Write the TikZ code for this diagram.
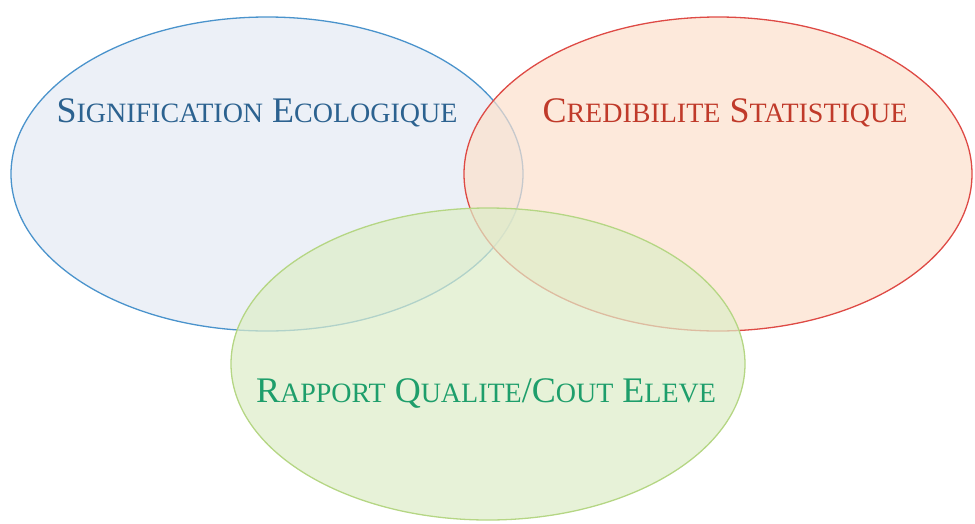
\documentclass[tikz,border=0pt]{standalone}
\usepackage{fontspec}
\setmainfont{Liberation Serif}
\definecolor{bleuTrait}{HTML}{4A93CC}
\definecolor{bleuFond}{HTML}{E4EAF3}
\definecolor{bleuTexte}{HTML}{2C6290}
\definecolor{rougeTrait}{HTML}{DE4A45}
\definecolor{rougeFond}{HTML}{FCE0CC}
\definecolor{rougeTexte}{HTML}{C03A2A}
\definecolor{vertTrait}{HTML}{B5D684}
\definecolor{vertFond}{HTML}{DDEDC8}
\definecolor{vertTexte}{HTML}{1E9E6B}
\newcommand{\petitecap}[1]{{\fontsize{28}{28}\selectfont #1}}
\tikzset{
  bulle/.style={line width=1.3pt, fill opacity=0.7},
  titre/.style={font=\fontsize{36}{36}\selectfont, inner sep=0pt}
}

\begin{document}
\begin{tikzpicture}[x=1pt, y=-1pt]
        \useasboundingbox (0,0) rectangle (975,523);
        % les trois ensembles
        \draw [bulle, draw=bleuTrait, fill=bleuFond] (267,174) ellipse (256 and 157);
        \draw [bulle, draw=rougeTrait, fill=rougeFond] (718,174) ellipse (254 and 157);
        \draw [bulle, draw=vertTrait, fill=vertFond] (488,364) ellipse (257 and 156);
        \node [titre, text=bleuTexte] (ecologie) at (257,113) {S\petitecap{IGNIFICATION} E\petitecap{COLOGIQUE}};
        \node [titre, text=rougeTexte] (statistique) at (725,113) {C\petitecap{REDIBILITE} S\petitecap{TATISTIQUE}};
        \node [titre, text=vertTexte] (cout) at (486,393) {R\petitecap{APPORT} Q\petitecap{UALITE}/C\petitecap{OUT} E\petitecap{LEVE}};
    \end{tikzpicture}
\end{document}
